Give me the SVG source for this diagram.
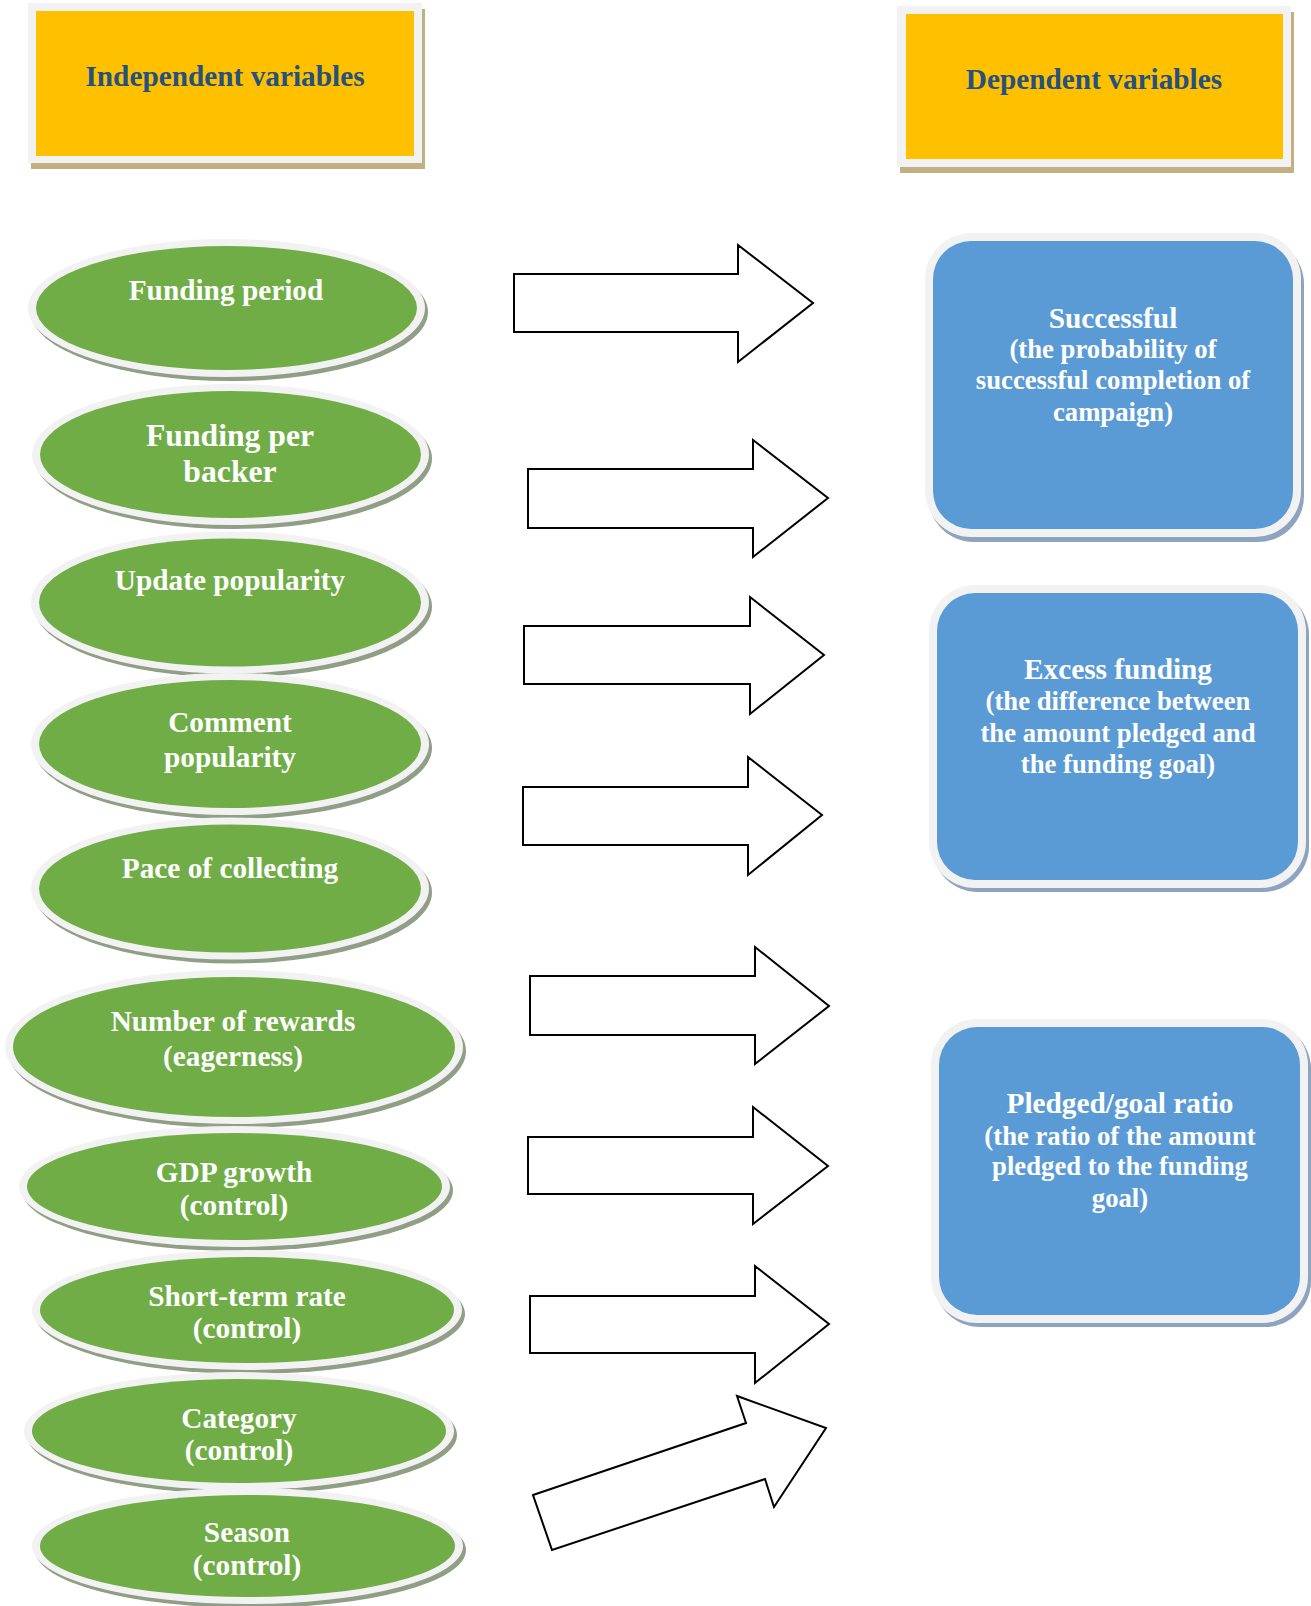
<svg xmlns="http://www.w3.org/2000/svg" width="1311" height="1606" viewBox="0 0 1311 1606">
<style>
.hdr-sh{fill:#c2b083}
.hdr-ring{fill:#f2f2f2}
.hdr{fill:#ffc000}
.hdr-t{font-family:"Liberation Serif","Times New Roman",serif;font-weight:bold;font-size:29.3px;fill:#255180;text-anchor:middle}
.el-sh{fill:#8f9e84}
.el-ring{fill:#f2f2f2}
.el{fill:#70ad47}
.t{font-family:"Liberation Serif","Times New Roman",serif;font-weight:bold;font-size:29.3px;fill:#ffffff;text-anchor:middle}
.tl{font-family:"Liberation Serif","Times New Roman",serif;font-weight:bold;font-size:31.7px;fill:#ffffff;text-anchor:middle}
.ts{font-family:"Liberation Serif","Times New Roman",serif;font-weight:bold;font-size:26.7px;fill:#ffffff;text-anchor:middle}
.bx-sh{fill:#8ea3bd}
.bx-ring{fill:#f2f2f2}
.bx{fill:#5b9bd5}
.arr{fill:#ffffff;stroke:#000000;stroke-width:2;stroke-linejoin:miter}
</style>
<rect width="1311" height="1606" fill="#ffffff"/>

<g id="independent-header">
<rect class="hdr-sh" x="31" y="9" width="394" height="160"/>
<rect class="hdr-ring" x="28" y="3" width="394" height="160"/>
<rect class="hdr" x="36" y="11" width="378" height="145"/>
<text class="hdr-t" x="225" y="85.5">Independent variables</text>
</g>

<g id="dependent-header">
<rect class="hdr-sh" x="900" y="12" width="394" height="161"/>
<rect class="hdr-ring" x="897" y="6" width="394" height="161"/>
<rect class="hdr" x="906" y="14" width="377" height="145"/>
<text class="hdr-t" x="1094" y="89">Dependent variables</text>
</g>

<g id="funding-period">
<ellipse class="el-sh" cx="229.5" cy="312" rx="198.5" ry="69"/>
<ellipse class="el-ring" cx="226.5" cy="308" rx="198.5" ry="69"/>
<ellipse class="el" cx="226.5" cy="308" rx="190.5" ry="62"/>
<text class="t" x="226" y="300">Funding period</text>
</g>

<g id="funding-per-backer">
<ellipse class="el-sh" cx="233.5" cy="458.5" rx="198.5" ry="70.5"/>
<ellipse class="el-ring" cx="230.5" cy="454.5" rx="198.5" ry="70.5"/>
<ellipse class="el" cx="230.5" cy="454.5" rx="190.5" ry="63.5"/>
<text class="tl" x="230" y="446">Funding per</text>
<text class="tl" x="230" y="482">backer</text>
</g>

<g id="update-popularity">
<ellipse class="el-sh" cx="233" cy="606.5" rx="199" ry="71"/>
<ellipse class="el-ring" cx="230" cy="602.5" rx="199" ry="71"/>
<ellipse class="el" cx="230" cy="602.5" rx="191" ry="64"/>
<text class="t" x="230" y="590">Update popularity</text>
</g>

<g id="comment-popularity">
<ellipse class="el-sh" cx="233" cy="748" rx="199" ry="71"/>
<ellipse class="el-ring" cx="230" cy="744" rx="199" ry="71"/>
<ellipse class="el" cx="230" cy="744" rx="191" ry="64"/>
<text class="t" x="230" y="732">Comment</text>
<text class="t" x="230" y="767">popularity</text>
</g>

<g id="pace-of-collecting">
<ellipse class="el-sh" cx="233" cy="892.5" rx="199" ry="71"/>
<ellipse class="el-ring" cx="230" cy="888.5" rx="199" ry="71"/>
<ellipse class="el" cx="230" cy="888.5" rx="191" ry="64"/>
<text class="t" x="230" y="878">Pace of collecting</text>
</g>

<g id="number-of-rewards">
<ellipse class="el-sh" cx="237" cy="1051" rx="229" ry="77"/>
<ellipse class="el-ring" cx="234" cy="1047" rx="229" ry="77"/>
<ellipse class="el" cx="234" cy="1047" rx="221" ry="70"/>
<text class="t" x="233" y="1031">Number of rewards</text>
<text class="t" x="233" y="1066">(eagerness)</text>
</g>

<g id="gdp-growth">
<ellipse class="el-sh" cx="237.5" cy="1190.5" rx="215.5" ry="60.5"/>
<ellipse class="el-ring" cx="234.5" cy="1186.5" rx="215.5" ry="60.5"/>
<ellipse class="el" cx="234.5" cy="1186.5" rx="207.5" ry="53.5"/>
<text class="t" x="234" y="1182">GDP growth</text>
<text class="t" x="234" y="1215">(control)</text>
</g>

<g id="short-term-rate">
<ellipse class="el-sh" cx="250" cy="1314" rx="215" ry="60"/>
<ellipse class="el-ring" cx="247" cy="1310" rx="215" ry="60"/>
<ellipse class="el" cx="247" cy="1310" rx="207" ry="53"/>
<text class="t" x="247" y="1306">Short-term rate</text>
<text class="t" x="247" y="1338">(control)</text>
</g>

<g id="category">
<ellipse class="el-sh" cx="242" cy="1435" rx="215" ry="59"/>
<ellipse class="el-ring" cx="239" cy="1431" rx="215" ry="59"/>
<ellipse class="el" cx="239" cy="1431" rx="207" ry="52"/>
<text class="t" x="239" y="1428">Category</text>
<text class="t" x="239" y="1460">(control)</text>
</g>

<g id="season">
<ellipse class="el-sh" cx="250.5" cy="1550" rx="215.5" ry="58"/>
<ellipse class="el-ring" cx="247.5" cy="1546" rx="215.5" ry="58"/>
<ellipse class="el" cx="247.5" cy="1546" rx="207.5" ry="51"/>
<text class="t" x="247" y="1542">Season</text>
<text class="t" x="247" y="1575">(control)</text>
</g>

<g id="successful">
<rect class="bx-sh" x="928" y="238" width="376" height="304" rx="46"/>
<rect class="bx-ring" x="925" y="233" width="376" height="304" rx="46"/>
<rect class="bx" x="933" y="241" width="360" height="288" rx="38"/>
<text class="t" x="1113" y="328">Successful</text>
<text class="ts" x="1113" y="358">(the probability of</text>
<text class="ts" x="1113" y="389">successful completion of</text>
<text class="ts" x="1113" y="421">campaign)</text>
</g>

<g id="excess-funding">
<rect class="bx-sh" x="932" y="589" width="377" height="303" rx="46"/>
<rect class="bx-ring" x="929" y="585" width="377" height="303" rx="46"/>
<rect class="bx" x="937" y="593" width="361" height="287" rx="38"/>
<text class="t" x="1118" y="679">Excess funding</text>
<text class="ts" x="1118" y="710">(the difference between</text>
<text class="ts" x="1118" y="742">the amount pledged and</text>
<text class="ts" x="1118" y="773">the funding goal)</text>
</g>

<g id="pledged-goal-ratio">
<rect class="bx-sh" x="934" y="1023" width="377" height="304" rx="46"/>
<rect class="bx-ring" x="931" y="1019" width="377" height="304" rx="46"/>
<rect class="bx" x="939" y="1027" width="361" height="288" rx="38"/>
<text class="t" x="1120" y="1113">Pledged/goal ratio</text>
<text class="ts" x="1120" y="1145">(the ratio of the amount</text>
<text class="ts" x="1120" y="1175">pledged to the funding</text>
<text class="ts" x="1120" y="1207">goal)</text>
</g>

<g id="connectors">
<polygon class="arr" points="514,274 738,274 738,245 813,303 738,362 738,332 514,332"/>
<polygon class="arr" points="528,469 753,469 753,440 828,498 753,557 753,528 528,528"/>
<polygon class="arr" points="524,626 750,626 750,597 824,655 750,714 750,684 524,684"/>
<polygon class="arr" points="523,787 748,787 748,757 822,815 748,875 748,845 523,845"/>
<polygon class="arr" points="530,976 755,976 755,947 829,1006 755,1064 755,1035 530,1035"/>
<polygon class="arr" points="528,1137 753,1137 753,1107 828,1166 753,1224 753,1194 528,1194"/>
<polygon class="arr" points="530,1296 755,1296 755,1266 829,1324 755,1383 755,1353 530,1353"/>
<polygon class="arr" points="533,1495 746,1423 737,1396 826,1428 774,1507 765,1479 552,1550"/>
</g>
</svg>
